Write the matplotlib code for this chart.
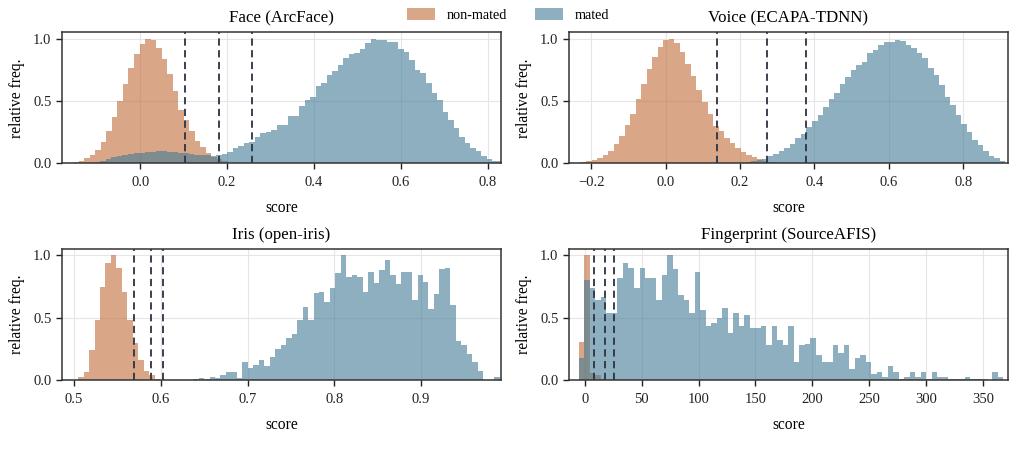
import numpy as np
import matplotlib
matplotlib.use('Agg')
import matplotlib.pyplot as plt
from matplotlib.patches import Patch

plt.rcParams.update({
    'font.family': 'serif',
    'font.serif': ['Liberation Serif', 'DejaVu Serif'],
    'font.size': 11,
    'axes.titlesize': 12.2,
    'axes.labelsize': 11.2,
    'xtick.labelsize': 10.5,
    'ytick.labelsize': 10.5,
    'legend.fontsize': 10.2,
})

COR_NM = '#C06C37'
COR_M = '#417A96'
ALFA = 0.6
COR_LIMIAR = '#2b3340'

titulos = ['Face (ArcFace)', 'Voice (ECAPA-TDNN)', 'Iris (open-iris)', 'Fingerprint (SourceAFIS)']

# --- Face: (início do 1º bin, largura do bin, alturas) ---
face_nm_inicio, face_nm_larg = -0.154, 0.0127
face_nm = [0.01, 0.02, 0.04, 0.065, 0.11, 0.175, 0.26, 0.37, 0.5, 0.64, 0.77, 0.88, 0.96, 1.0,
           0.99, 0.93, 0.84, 0.72, 0.58, 0.43, 0.35, 0.26, 0.18, 0.13, 0.08, 0.05, 0.03, 0.015, 0.005]
face_m_inicio, face_m_larg = -0.117, 0.0127
face_m = [0.005, 0.01, 0.02, 0.035, 0.05, 0.06, 0.07, 0.075, 0.08, 0.085, 0.09, 0.09, 0.095, 0.1,
          0.09, 0.09, 0.085, 0.08, 0.075, 0.07, 0.07, 0.065, 0.06,
          0.065, 0.075, 0.09, 0.125, 0.14, 0.16, 0.175, 0.215, 0.24, 0.25, 0.27, 0.31, 0.31, 0.38,
          0.38, 0.46, 0.51, 0.53, 0.62, 0.65, 0.71, 0.74, 0.79, 0.85, 0.88, 0.89, 0.92, 0.97, 1.0,
          0.995, 0.99, 0.98, 0.98, 0.92, 0.9, 0.83, 0.75, 0.73, 0.65, 0.57, 0.51, 0.41, 0.345, 0.28,
          0.215, 0.165, 0.12, 0.1, 0.06, 0.035, 0.02, 0.02]
face_limiares = [0.1025, 0.1805, 0.257]
face_xlim = (-0.18, 0.83)

# --- Voice ---
voz_nm_inicio, voz_nm_larg = -0.229, 0.01485
voz_nm = [0.008, 0.016, 0.027, 0.04, 0.067, 0.1, 0.156, 0.22, 0.31, 0.4, 0.52, 0.64, 0.76, 0.86,
          0.94, 0.99, 1.0, 0.97, 0.9, 0.8, 0.7, 0.59, 0.49, 0.4, 0.3, 0.26, 0.2, 0.16, 0.124, 0.09,
          0.07, 0.05, 0.03, 0.02, 0.013, 0.008, 0.005]
voz_m_inicio, voz_m_larg = 0.2004, 0.01485
voz_m = [0.005, 0.01, 0.016, 0.024, 0.035, 0.06, 0.078, 0.097, 0.124, 0.156, 0.2, 0.237, 0.29,
         0.337, 0.39, 0.455, 0.52, 0.57, 0.64, 0.695, 0.75, 0.79, 0.82, 0.885, 0.915, 0.95, 0.98,
         0.98, 0.997, 0.985, 0.95, 0.93, 0.885, 0.845, 0.77, 0.71, 0.63, 0.535, 0.47, 0.39, 0.32,
         0.25, 0.19, 0.143, 0.1, 0.062, 0.04, 0.02]
voz_limiares = [0.137, 0.273, 0.376]
voz_xlim = (-0.26, 0.92)

# --- Iris ---
iris_larg = 0.00631
iris_nm_inicio = 0.5046
iris_nm = [0.03, 0.067, 0.24, 0.48, 0.75, 0.94, 1.0, 0.9, 0.71, 0.48, 0.3, 0.16, 0.073, 0.04, 0.013]
iris_m_inicio = 0.6372
iris_m = [0.01, 0.02, 0.013, 0.03, 0.02, 0.045, 0.065, 0.065, 0.02, 0.145, 0.1, 0.125, 0.165,
          0.115, 0.19, 0.255, 0.28, 0.34, 0.37, 0.48, 0.59, 0.48, 0.7, 0.705, 0.63, 0.74, 0.86,
          1.0, 0.83, 0.84, 0.83, 0.71, 0.87, 0.78, 0.88, 0.96, 0.84, 0.77, 0.87, 0.87, 0.645,
          0.84, 0.79, 0.575, 0.69, 0.89, 0.9, 0.6, 0.315, 0.28, 0.215, 0.15, 0.075, 0.0, 0.0, 0.025]
iris_limiares = [0.5685, 0.5885, 0.6023]
iris_xlim = (0.486, 0.992)

# --- Fingerprint ---
dedo_inicio, dedo_larg = -5.3, 4.85
dedo_nm = [0.31, 1.0, 0.06, 0.04, 0.01]
dedo_m = [0.18, 0.8, 0.74, 0.64, 0.67, 0.54, 0.54, 0.82, 0.94, 0.9, 0.74, 0.9, 0.82, 0.82, 0.64,
          0.84, 1.0, 0.89, 0.68, 0.64, 0.54, 0.87, 0.56, 0.435, 0.46, 0.5, 0.58, 0.38, 0.54, 0.435,
          0.52, 0.42, 0.42, 0.435, 0.28, 0.435, 0.32, 0.28, 0.435, 0.15, 0.28, 0.29, 0.34, 0.2,
          0.15, 0.15, 0.28, 0.22, 0.28, 0.094, 0.175, 0.2, 0.15, 0.054, 0.07, 0.03, 0.113, 0.07,
          0.013, 0.03, 0.07, 0.03, 0.07, 0.013, 0.07, 0.03, 0.03, 0.013, 0.008, 0.013, 0.03, 0.013,
          0.013, 0.013, 0.0, 0.07, 0.03]
dedo_limiares = [7.6, 17.4, 26.0]
dedo_xlim = (-14, 372)

paineis = [
    (face_nm_inicio, face_nm_larg, face_nm, face_m_inicio, face_m_larg, face_m, face_limiares, face_xlim,
     [0.0, 0.2, 0.4, 0.6, 0.8]),
    (voz_nm_inicio, voz_nm_larg, voz_nm, voz_m_inicio, voz_m_larg, voz_m, voz_limiares, voz_xlim,
     [-0.2, 0.0, 0.2, 0.4, 0.6, 0.8]),
    (iris_nm_inicio, iris_larg, iris_nm, iris_m_inicio, iris_larg, iris_m, iris_limiares, iris_xlim,
     [0.5, 0.6, 0.7, 0.8, 0.9]),
    (dedo_inicio, dedo_larg, dedo_nm, dedo_inicio, dedo_larg, dedo_m, dedo_limiares, dedo_xlim,
     [0, 50, 100, 150, 200, 250, 300, 350]),
]

posicoes = [
    [0.061, 0.652, 0.432, 0.279],
    [0.560, 0.652, 0.432, 0.279],
    [0.061, 0.189, 0.432, 0.281],
    [0.560, 0.189, 0.432, 0.281],
]


def bordas(inicio, larg, n):
    return inicio + larg * np.arange(n + 1)


fig = plt.figure(figsize=(10.16, 4.69), dpi=100)

for titulo, pos, (nm_i, nm_w, nm, m_i, m_w, m, limiares, xlim, xticks) in zip(titulos, posicoes, paineis):
    ax = fig.add_axes(pos)
    ax.stairs(nm, bordas(nm_i, nm_w, len(nm)), fill=True, color=COR_NM, alpha=ALFA, linewidth=0)
    ax.stairs(m, bordas(m_i, m_w, len(m)), fill=True, color=COR_M, alpha=ALFA, linewidth=0)
    for lim in limiares:
        ax.axvline(lim, color=COR_LIMIAR, linestyle=(0, (4, 2.5)), linewidth=1.3)
    ax.set_xlim(*xlim)
    ax.set_ylim(0, 1.055)
    ax.set_xticks(xticks)
    ax.set_yticks([0.0, 0.5, 1.0])
    ax.set_yticklabels(['0.0', '0.5', '1.0'])
    if titulo.startswith('Finger'):
        ax.set_xticklabels([str(t) for t in xticks])
    ax.grid(True, color='#e6e6e6', linewidth=0.8)
    ax.set_axisbelow(True)
    for s in ax.spines.values():
        s.set_color('#333333')
        s.set_linewidth(1.1)
    ax.tick_params(colors='#222222', length=4, width=1.0)
    ax.tick_params(axis='x', pad=5)
    ax.set_title(titulo, pad=7)
    ax.set_xlabel('score', labelpad=8)
    ax.set_ylabel('relative freq.', labelpad=6)

handles = [Patch(facecolor=COR_NM, alpha=ALFA, label='non-mated'),
           Patch(facecolor=COR_M, alpha=ALFA, label='mated')]
fig.legend(handles=handles, loc='upper center', bbox_to_anchor=(0.5, 1.01), ncol=2,
           frameon=False, handlelength=2.0, handleheight=0.9, columnspacing=2.0)

fig.savefig('out.png', dpi=100)
